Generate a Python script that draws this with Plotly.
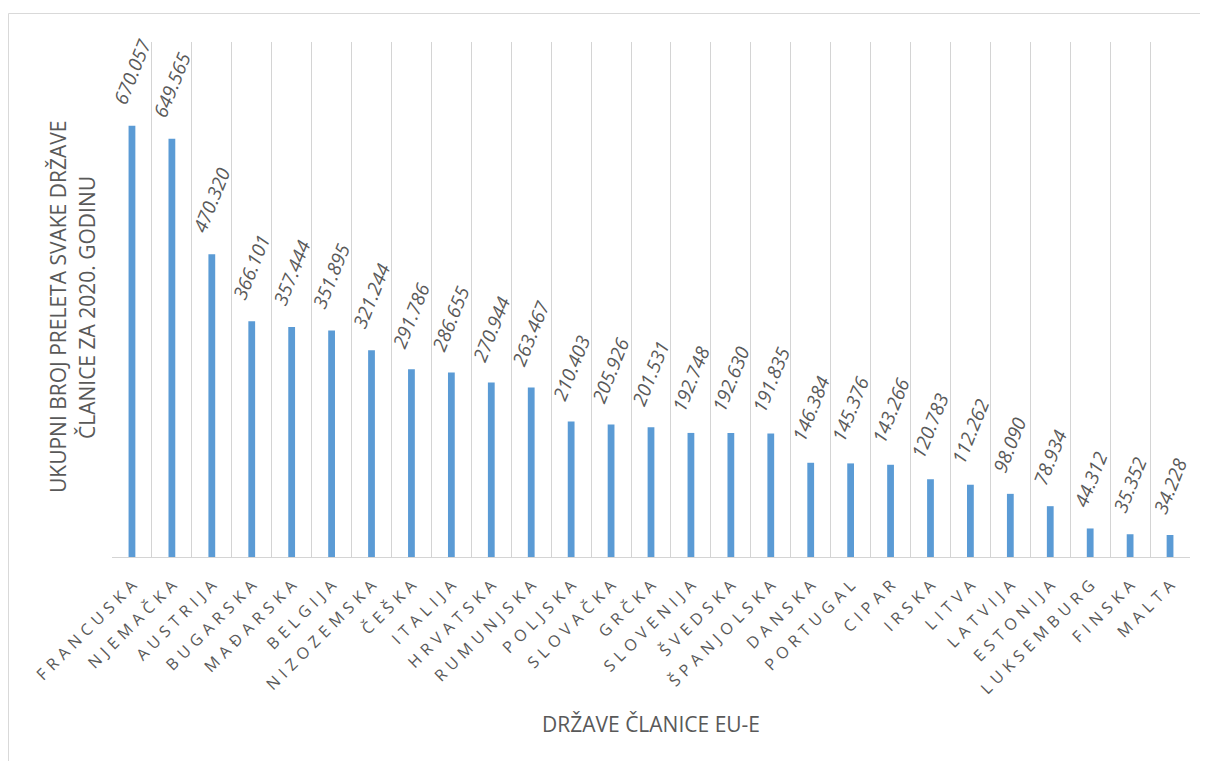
import plotly.graph_objects as go

categories = ["FRANCUSKA", "NJEMAČKA", "AUSTRIJA", "BUGARSKA", "MAĐARSKA", "BELGIJA",
              "NIZOZEMSKA", "ČEŠKA", "ITALIJA", "HRVATSKA", "RUMUNJSKA", "POLJSKA",
              "SLOVAČKA", "GRČKA", "SLOVENIJA", "ŠVEDSKA", "ŠPANJOLSKA", "DANSKA",
              "PORTUGAL", "CIPAR", "IRSKA", "LITVA", "LATVIJA", "ESTONIJA",
              "LUKSEMBURG", "FINSKA", "MALTA"]
values = [670057, 649565, 470320, 366101, 357444, 351895, 321244, 291786, 286655,
          270944, 263467, 210403, 205926, 201531, 192748, 192630, 191835, 146384,
          145376, 143266, 120783, 112262, 98090, 78934, 44312, 35352, 34228]

y_title_lines = ["UKUPNI BROJ PRELETA SVAKE DRŽAVE", "ČLANICE ZA 2020. GODINU"]
x_title = "DRŽAVE ČLANICE EU-E"

# page body margin offset (8px)
OFF = 8
W, H = 1208 - OFF, 761 - OFF
# plot area in reference page pixels
PX0, PX1, PY0, PY1 = 112, 1190, 42, 557
ML = PX0 - OFF
MT = PY0 - OFF
MR = W - (PX1 - OFF)
MB = H - (PY1 - OFF)
PW, PH = W - ML - MR, H - MT - MB

SP = "\u2004"
def spaced(s):
    return SP.join(list(s))

def fmt(v):
    return f"{v:,}".replace(",", ".")

GRAY = "#595959"
FONT = "Open Sans"

def px_to_paper_x(px):  # reference page px -> paper
    return (px - PX0) / PW

def px_to_paper_y(py):
    return (PY1 - py) / PH

fig = go.Figure()
fig.add_trace(go.Bar(
    x=categories, y=values,
    marker=dict(color="#5B9BD5", line=dict(width=0)),
    width=0.17,
    hoverinfo="x+y",
))

annotations = []
for c, v in zip(categories, values):
    annotations.append(dict(
        x=c, y=v, xref="x", yref="y", text=fmt(v), showarrow=False,
        textangle=-68, xanchor="center", yanchor="bottom", yshift=15,
        font=dict(family=FONT, size=19, color=GRAY, style="italic"),
    ))

annotations.append(dict(
    x=px_to_paper_x(58), y=px_to_paper_y(307), xref="paper", yref="paper",
    text=y_title_lines[0], showarrow=False, textangle=-90,
    xanchor="center", yanchor="middle",
    font=dict(family=FONT, size=21, color=GRAY)))
annotations.append(dict(
    x=px_to_paper_x(87), y=px_to_paper_y(308), xref="paper", yref="paper",
    text=y_title_lines[1], showarrow=False, textangle=-90,
    xanchor="center", yanchor="middle",
    font=dict(family=FONT, size=21, color=GRAY)))
annotations.append(dict(
    x=px_to_paper_x(651), y=px_to_paper_y(724), xref="paper", yref="paper",
    text=x_title, showarrow=False,
    xanchor="center", yanchor="middle",
    font=dict(family=FONT, size=21, color=GRAY)))

fig.update_layout(
    width=W, height=H,
    margin=dict(l=ML, r=MR, t=MT, b=MB, autoexpand=False),
    paper_bgcolor="white", plot_bgcolor="white",
    showlegend=False,
    annotations=annotations,
    shapes=[dict(type="rect", xref="paper", yref="paper",
                 x0=px_to_paper_x(8.5), x1=px_to_paper_x(1230),
                 y0=px_to_paper_y(790), y1=px_to_paper_y(13.5),
                 line=dict(color="#d9d9d9", width=1), layer="below")],
    xaxis=dict(
        type="category",
        tickvals=categories,
        ticktext=[spaced(c) for c in categories],
        tickangle=-45,
        tickson="boundaries",
        ticks="",
        ticklabelstandoff=12,
        showgrid=True, gridcolor="#d4d4d4", gridwidth=1,
        showline=True, linecolor="#d4d4d4", linewidth=1,
        tickfont=dict(family=FONT, size=16, color=GRAY),
        range=[-0.5, len(categories) - 0.5],
        fixedrange=True,
    ),
    yaxis=dict(
        range=[0, 800000], visible=False, showgrid=False, zeroline=False,
        fixedrange=True,
    ),
)

fig.write_html("out.html")
